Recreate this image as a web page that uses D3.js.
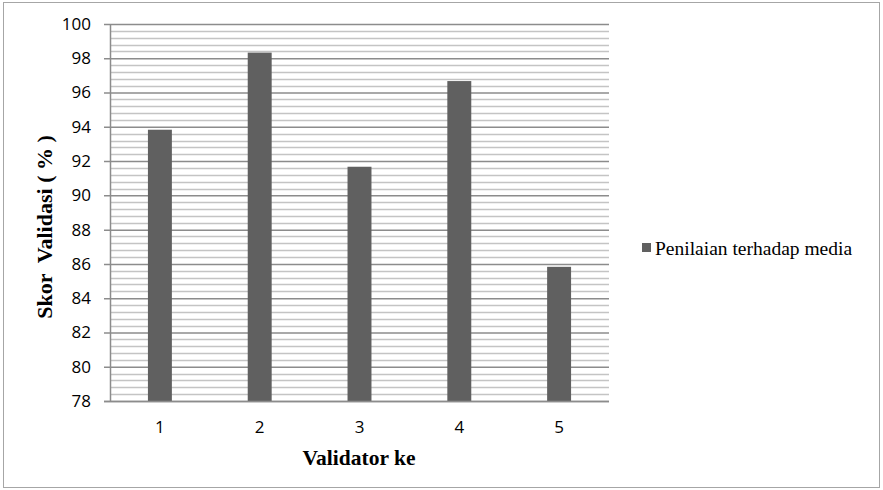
<!DOCTYPE html>
<html>
<head>
<meta charset="utf-8">
<script src="https://cdn.jsdelivr.net/npm/d3@7"></script>
<style>
  body { margin: 0; background: #fff; }
  svg { display: block; }
</style>
</head>
<body>
<svg width="883" height="490"></svg>
<script>
// data
var validators = ["1", "2", "3", "4", "5"];
var scores = [93.83, 98.33, 91.67, 96.67, 85.83];
var yTicks = [78, 80, 82, 84, 86, 88, 90, 92, 94, 96, 98, 100];
var seriesName = "Penilaian terhadap media";

var SERIF = "'Liberation Serif', 'Times New Roman', serif";
var NUM = "'Open Sans', 'Liberation Sans', sans-serif";

var svg = d3.select("svg"),
    width = +svg.attr("width"),
    height = +svg.attr("height");

var margin = {left: 110, right: 274, top: 24, bottom: 89};
var plotW = width - margin.left - margin.right,
    plotH = height - margin.top - margin.bottom;

// outer frame
svg.append("rect")
    .attr("x", 3.5).attr("y", 2.5)
    .attr("width", width - 7).attr("height", height - 5)
    .attr("fill", "none").attr("stroke", "#a6a6a6");

var g = svg.append("g").attr("transform", "translate(" + margin.left + "," + margin.top + ")");

var x = d3.scaleBand().domain(validators).range([0, plotW]).paddingInner(0.76).paddingOuter(0.38);
var y = d3.scaleLinear().domain([78, 100]).range([plotH, 0]);

// minor gridlines every 0.4
var minor = d3.range(0, 56).map(function(i) { return 78 + i * 0.4; })
    .filter(function(v) { return Math.abs(v - Math.round(v / 2) * 2) > 0.01; });
g.selectAll(".minor").data(minor).enter().append("line")
    .attr("x1", 0).attr("x2", plotW)
    .attr("y1", function(d) { return Math.round(y(d)) + 0.5; })
    .attr("y2", function(d) { return Math.round(y(d)) + 0.5; })
    .attr("stroke", "#c4c4c4").attr("stroke-width", 1.5);

// major gridlines + y axis
var yAxis = g.append("g")
    .call(d3.axisLeft(y).tickValues(yTicks).tickSize(6).tickPadding(8).tickFormat(d3.format("d")));
yAxis.select(".domain").attr("stroke", "#8c8c8c").attr("stroke-width", 1.5).attr("d", "M0.5," + plotH + "V0");
yAxis.selectAll(".tick line").attr("stroke", "#8c8c8c").attr("stroke-width", 1.5).attr("x2", plotW + 6).attr("transform", "translate(-6,0)");
yAxis.selectAll(".tick text")
    .attr("x", -19)
    .style("font-family", NUM)
    .style("font-size", "17px")
    .attr("fill", "#000");

// bars
g.selectAll(".bar").data(scores).enter().append("rect")
    .attr("x", function(d, i) { return x(validators[i]); })
    .attr("y", function(d) { return y(d); })
    .attr("width", x.bandwidth())
    .attr("height", function(d) { return plotH - y(d); })
    .attr("fill", "#606060");

// x axis
var xAxis = g.append("g").attr("transform", "translate(0," + plotH + ")")
    .call(d3.axisBottom(x).tickSize(0).tickPadding(20));
xAxis.select(".domain").attr("stroke", "#8c8c8c").attr("stroke-width", 1.5).attr("d", "M-6,0.5H" + plotW);
xAxis.selectAll(".tick text")
    .style("font-family", NUM)
    .style("font-size", "17px")
    .attr("fill", "#000");

// axis titles
svg.append("text")
    .attr("x", 359).attr("y", 465)
    .attr("text-anchor", "middle")
    .style("font-family", SERIF)
    .style("font-weight", "bold").style("font-size", "21.5px")
    .text("Validator ke");

svg.append("text")
    .attr("transform", "translate(52,227) rotate(-90)")
    .attr("text-anchor", "middle")
    .style("font-family", SERIF)
    .style("font-weight", "bold").style("font-size", "22px")
    .style("white-space", "pre")
    .text("Skor  Validasi ( % )");

// legend
var legend = svg.append("g").attr("transform", "translate(642,248)");
legend.append("rect").attr("x", 0).attr("y", -5).attr("width", 9).attr("height", 9).attr("fill", "#606060");
legend.append("text")
    .attr("x", 13).attr("y", 7)
    .style("font-family", SERIF)
    .style("font-size", "19.5px")
    .text(seriesName);
</script>
</body>
</html>
